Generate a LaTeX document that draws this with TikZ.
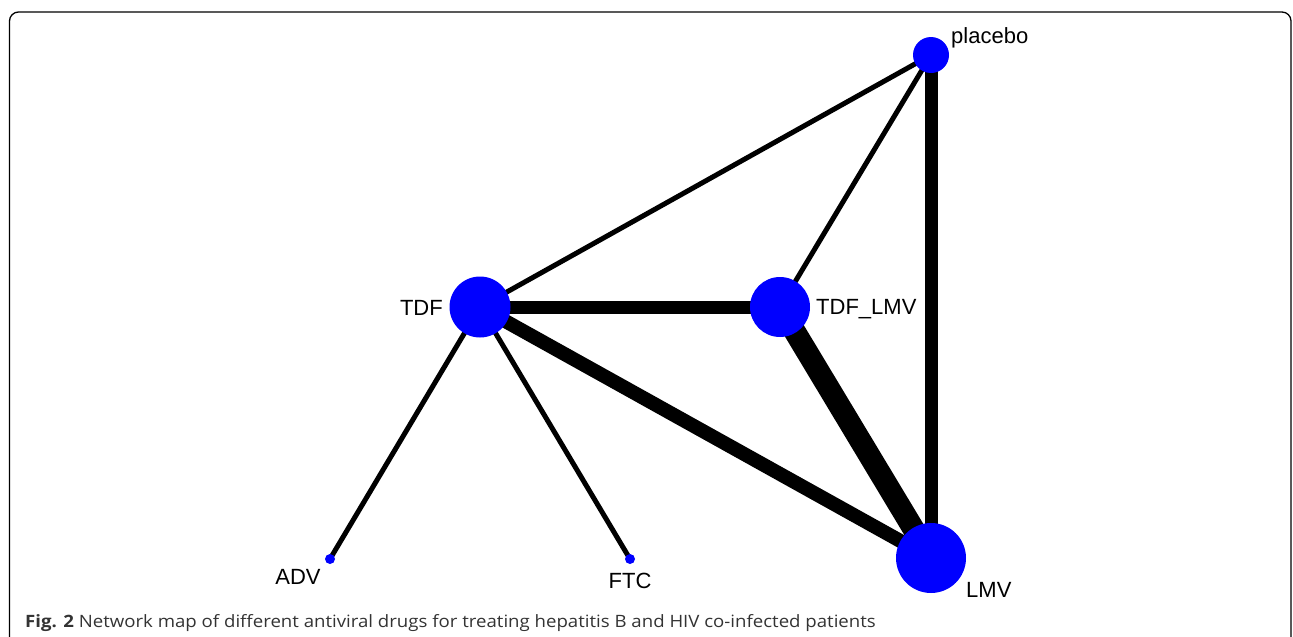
\documentclass[tikz,border=0pt]{standalone}
\usepackage{fontspec}
\setmainfont{Liberation Sans}
\newfontfamily\capfont{Open Sans}
\usetikzlibrary{positioning}
\usetikzlibrary{backgrounds}

\begin{document}
\begin{tikzpicture}[x=1pt, y=-1pt]
\pgfmathsetmacro{\XL}{480}
\pgfmathsetmacro{\XR}{780}
\pgfmathsetmacro{\XP}{931}


\tikzset{
  drug/.style={circle, fill=blue, inner sep=0pt, minimum size=#1},
  link/.style={draw, line width=#1},
  lbl/.style={inner sep=0pt, font=\fontsize{22}{25}\selectfont},
}

\useasboundingbox (0,0) rectangle (1293,637);
\clip (0,0) rectangle (1293,637);
\draw[line width=1.3pt, rounded corners=9pt] (9.5,720) -- (9.5,12) -- (1291,12) -- (1291,720);

\node[drug=36pt] (placebo) at (\XP, 55) {};
\node[drug=61pt] (TDF) at (\XL, 307) {};
\node[drug=60pt] (TDFLMV) at (\XR, 307) {};
\node[drug=70pt] (LMV) at (\XP, 558) {};
\node[drug=10pt] (ADV) at (330, 559) {};
\node[drug=10pt] (FTC) at (630, 559) {};

\begin{pgfonlayer}{background}
\draw[link=5pt] (TDF.center) -- (placebo.center);
\draw[link=5pt] (TDFLMV.center) -- (placebo.center);
\draw[link=13pt] (LMV.center) -- (placebo.center);
\draw[link=13pt] (TDF.center) -- (TDFLMV.center);
\draw[link=14pt] (TDF.center) -- (LMV.center);
\draw[link=22pt] (TDFLMV.center) -- (LMV.center);
\draw[link=5pt] (TDF.center) -- (ADV.center);
\draw[link=5pt] (TDF.center) -- (FTC.center);
\end{pgfonlayer}

\node[lbl, anchor=west] (placebolbl) at (951, 38) {placebo};
\node[lbl, anchor=east] (TDFlbl) at (443, 308) {TDF};
\node[lbl, anchor=west] (TDFLMVlbl) at (816, 309) {TDF\_LMV};
\node[lbl, anchor=west] (LMVlbl) at (966, 590) {LMV};
\node[lbl, anchor=center] (ADVlbl) at (298, 577) {ADV};
\node[lbl, anchor=center] (FTClbl) at (630, 581) {FTC};

\node[anchor=base west, inner sep=0pt, text=black!80, font=\capfont\fontsize{17}{20}\selectfont] (caption) at (25, 627)
  {\scalebox{1.095}[1]{\textbf{Fig. 2} Network map of different antiviral drugs for treating hepatitis B and HIV co-infected patients}};
\end{tikzpicture}
\end{document}
